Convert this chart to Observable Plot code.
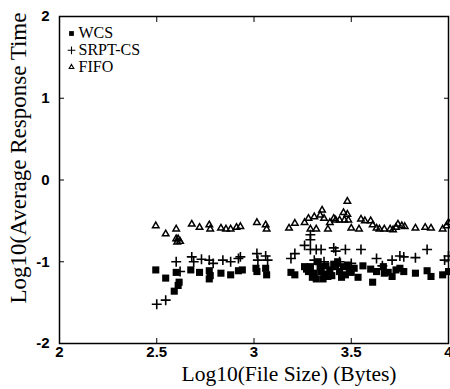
<!DOCTYPE html>
<html>
<head>
<meta charset="utf-8">
<script src="https://cdn.jsdelivr.net/npm/d3@7"></script>
<script src="https://cdn.jsdelivr.net/npm/@observablehq/plot@0.6"></script>
<style>
  html, body { margin: 0; padding: 0; background: #fff; }
  #chart { width: 450px; height: 389px; overflow: hidden; }
</style>
</head>
<body>
<div id="chart"></div>
<script>
// Series: log10(file size) vs log10(average response time)
const wcsX = [2.495, 2.546, 2.59, 2.61, 2.615, 2.60, 2.675, 2.72, 2.77, 2.77, 2.775, 2.83, 2.88, 2.92, 2.94,
  3.01, 3.015, 3.06, 3.065, 3.19, 3.21, 3.26, 3.28, 3.29, 3.30, 3.32, 3.34, 3.345, 3.355, 3.37, 3.39,
  3.41, 3.42, 3.44, 3.46, 3.47, 3.49, 3.515, 3.535, 3.56, 3.61, 3.63, 3.665, 3.67, 3.71, 3.73, 3.75,
  3.77, 3.83, 3.89, 3.91, 3.97, 4.0, 3.31, 3.36, 3.40, 3.43, 3.45, 3.48, 3.50, 3.38, 3.33, 3.27, 3.60, 3.69];
const wcsY = [-1.10, -1.20, -1.36, -1.29, -1.25, -1.13, -1.10, -1.13, -1.11, -1.21, -1.17, -1.14, -1.16, -1.11, -1.10,
  -1.08, -1.12, -1.08, -1.16, -1.13, -1.16, -1.06, -1.12, -1.06, -1.19, -1.21, -1.06, -1.12, -1.21, -1.05, -1.10,
  -1.03, -1.06, -1.12, -1.06, -1.16, -1.10, -1.08, -1.19, -1.05, -1.25, -1.12, -1.06, -1.14, -1.18, -1.10, -1.08,
  -1.12, -1.14, -1.11, -1.18, -1.16, -1.12, -1.14, -1.15, -1.17, -1.00, -1.19, -1.04, -1.13, -1.18, -1.00, -1.09, -1.09, -1.13];

const srptX = [2.50, 2.546, 2.60, 2.62, 2.68, 2.69, 2.73, 2.77, 2.79, 2.84, 2.88, 2.92, 2.93, 3.015, 3.02,
  3.06, 3.07, 3.19, 3.21, 3.26, 3.29, 3.29, 3.29, 3.32, 3.345, 3.41, 3.42, 3.47, 3.55, 3.63, 3.71, 3.75,
  3.77, 3.83, 3.89, 3.98, 4.0, 3.36, 3.44, 3.50, 3.66, 3.31];
const srptY = [-1.52, -1.47, -1.00, -1.12, -0.94, -1.00, -0.97, -0.98, -1.02, -0.98, -1.00, -0.96, -0.94, -0.90, -0.98,
  -0.93, -0.98, -0.96, -0.90, -0.80, -0.67, -0.73, -0.85, -0.85, -0.85, -0.83, -0.87, -0.85, -0.85, -0.96, -0.98, -0.93,
  -0.94, -0.95, -0.85, -0.98, -0.93, -1.00, -1.00, -1.02, -1.05, -0.98];

const fifoX = [2.495, 2.546, 2.60, 2.60, 2.61, 2.62, 2.605, 2.68, 2.72, 2.77, 2.775, 2.83, 2.856, 2.88, 2.91, 2.93,
  3.015, 3.06, 3.065, 3.18, 3.21, 3.26, 3.28, 3.29, 3.31, 3.32, 3.34, 3.35, 3.36, 3.38, 3.39, 3.41, 3.42,
  3.44, 3.46, 3.465, 3.48, 3.48, 3.485, 3.50, 3.54, 3.55, 3.57, 3.60, 3.61, 3.63, 3.645, 3.67, 3.70, 3.715,
  3.73, 3.74, 3.76, 3.775, 3.83, 3.88, 3.91, 3.97, 3.99, 4.0];
const fifoY = [-0.56, -0.66, -0.60, -0.72, -0.72, -0.75, -0.76, -0.54, -0.58, -0.55, -0.60, -0.59, -0.60, -0.60, -0.58, -0.57,
  -0.52, -0.55, -0.60, -0.59, -0.53, -0.52, -0.47, -0.60, -0.45, -0.60, -0.43, -0.37, -0.47, -0.60, -0.52, -0.47, -0.49,
  -0.49, -0.40, -0.49, -0.26, -0.42, -0.49, -0.59, -0.60, -0.48, -0.50, -0.50, -0.55, -0.59, -0.60, -0.60, -0.60, -0.61,
  -0.58, -0.54, -0.56, -0.57, -0.59, -0.58, -0.59, -0.60, -0.56, -0.52];

const series = ["WCS", "SRPT-CS", "FIFO"];
const xTicks = [2, 2.5, 3, 3.5, 4];
const yTicks = [-2, -1, 0, 1, 2];

const pts = (xs, ys) => xs.map((x, i) => ({x, y: ys[i]}));
const wcs = pts(wcsX, wcsY), srpt = pts(srptX, srptY), fifo = pts(fifoX, fifoY);

const fmt = d => String(d);
const tickFont = {fontSize: 15, fontWeight: "bold", fontFamily: "Liberation Sans, Arial, sans-serif"};
const serif = "Liberation Serif, Times New Roman, serif";

const legendSym = [
  {symbol: "square", fill: "black", stroke: "none", r: 2.7},
  {symbol: "plus", fill: "none", stroke: "black", r: 2.6},
  {symbol: "triangle2", fill: "none", stroke: "black", r: 2.2}
];

const chart = Plot.plot({
  width: 450,
  height: 389,
  marginLeft: 59,
  marginRight: 2,
  marginTop: 16,
  marginBottom: 46,
  style: {background: "white", color: "black", overflow: "hidden"},
  x: {domain: [2, 4], ticks: xTicks},
  y: {domain: [-2, 2], ticks: yTicks},
  marks: [
    Plot.dot(fifo, {x: "x", y: "y", symbol: "triangle2", r: 3.1, stroke: "black", strokeWidth: 1.5, fill: "none"}),
    Plot.dot(srpt, {x: "x", y: "y", symbol: "plus", r: 3.3, stroke: "black", strokeWidth: 1.6}),
    Plot.dot(wcs, {x: "x", y: "y", symbol: "square", r: 4.0, fill: "black"}),
    Plot.frame({stroke: "black", strokeWidth: 1.5}),
    Plot.axisX(xTicks, {anchor: "bottom", tickSize: -5, tickPadding: 8, tickFormat: fmt, label: null, ...tickFont}),
    Plot.axisX(xTicks, {anchor: "top", tickSize: -5, tickFormat: () => "", label: null}),
    Plot.axisY(yTicks, {anchor: "left", tickSize: -5, tickPadding: 15, tickFormat: fmt, label: null, ...tickFont}),
    Plot.axisY(yTicks, {anchor: "right", tickSize: -5, tickFormat: () => "", label: null}),
    Plot.text(["Log10(File Size) (Bytes)"], {frameAnchor: "bottom", dx: 35, dy: 31, text: d => d,
      fontSize: 21.5, fontFamily: serif, lineAnchor: "middle", textAnchor: "middle"}),
    Plot.text(["Log10(Average Response Time"], {frameAnchor: "left", dx: -41, dy: -22, rotate: -90, text: d => d,
      fontSize: 23, fontFamily: serif, lineAnchor: "middle", textAnchor: "middle"}),
    ...series.map((s, i) => Plot.dot([s], {frameAnchor: "top-left", dx: 12, dy: 17 + 16.8 * i, ...legendSym[i], strokeWidth: 1.1})),
    ...series.map((s, i) => Plot.text([s], {frameAnchor: "top-left", dx: 19, dy: 16.5 + 16.8 * i, text: d => d,
      fontSize: 16, fontFamily: serif, textAnchor: "start", lineAnchor: "middle"}))
  ]
});
document.getElementById("chart").append(chart);
</script>
</body>
</html>
